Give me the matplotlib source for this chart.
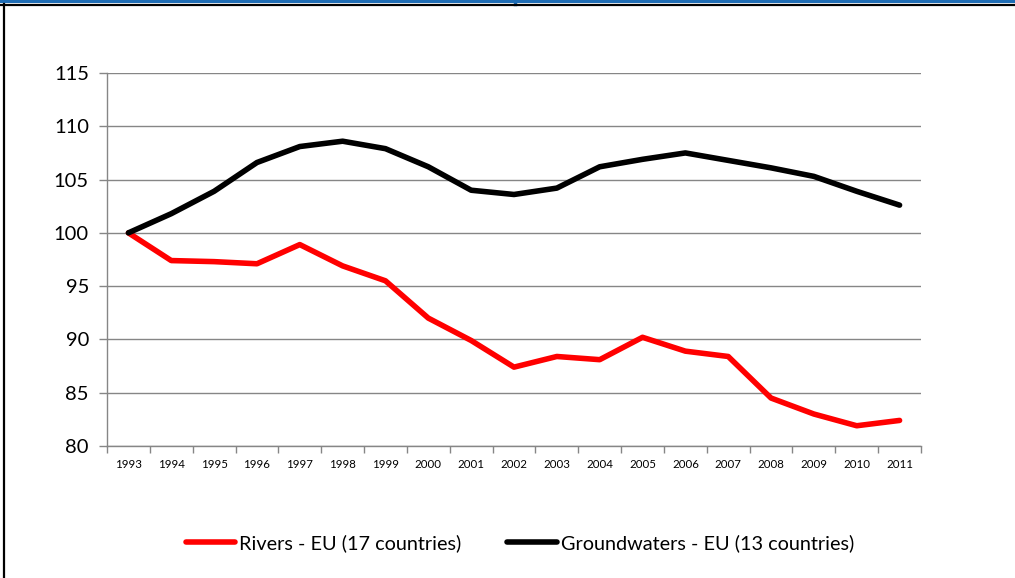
import matplotlib.pyplot as plt
from matplotlib.lines import Line2D
import numpy as np

plt.rcParams['font.family'] = ['Lato', 'DejaVu Sans']

years = ['1993', '1994', '1995', '1996', '1997', '1998', '1999', '2000', '2001', '2002',
         '2003', '2004', '2005', '2006', '2007', '2008', '2009', '2010', '2011']
rivers = [100, 97.4, 97.3, 97.1, 98.9, 96.9, 95.5, 92.0, 89.9, 87.4,
          88.4, 88.1, 90.2, 88.9, 88.4, 84.5, 83.0, 81.9, 82.4]
groundwaters = [100, 101.8, 103.9, 106.6, 108.1, 108.6, 107.9, 106.2, 104.0, 103.6,
                104.2, 106.2, 106.9, 107.5, 106.8, 106.1, 105.3, 103.9, 102.6]
labels = ['Rivers - EU (17 countries)', 'Groundwaters - EU (13 countries)']

fig = plt.figure(figsize=(10.15, 5.78), dpi=100)
ax = fig.add_axes([107 / 1015, 1 - 446 / 578, 814 / 1015, 373 / 578])

x = np.arange(len(years))
ax.plot(x, rivers, color='#ff0000', lw=4, solid_joinstyle='round', solid_capstyle='round', zorder=3)
ax.plot(x, groundwaters, color='#000000', lw=4, solid_joinstyle='round', solid_capstyle='round', zorder=3)

ax.set_xlim(-0.5, len(years) - 0.5)
ax.set_ylim(80, 115)
ax.set_yticks(np.arange(80, 116, 5))
ax.tick_params(axis='y', labelsize=14.5, length=6, width=1, color='#868686', pad=7)
ax.yaxis.grid(True, color='#868686', lw=1)
ax.set_axisbelow(True)

# category labels centred, tick marks between categories
ax.set_xticks(x)
ax.set_xticklabels(years, fontsize=8.3)
ax.tick_params(axis='x', length=0, pad=9)
ax.set_xticks(np.arange(-0.5, len(years), 1), minor=True)
ax.tick_params(axis='x', which='minor', length=5, width=1, color='#868686')

for side in ['top', 'right']:
    ax.spines[side].set_visible(False)
for side in ['left', 'bottom']:
    ax.spines[side].set_color('#868686')
    ax.spines[side].set_linewidth(1)

handles = [Line2D([], [], color='#ff0000', lw=4, solid_capstyle='round'),
           Line2D([], [], color='#000000', lw=4, solid_capstyle='round')]
fig.legend(handles, labels, loc='center', bbox_to_anchor=(520 / 1015, 1 - 543 / 578),
           ncol=2, frameon=False, fontsize=14.3, handlelength=2.5, handletextpad=0.2,
           columnspacing=2.3)

# frame lines along the top and left edges
fig.add_artist(Line2D([0, 1], [1 - 1 / 578, 1 - 1 / 578], color='#1f6db5', lw=2.2))
fig.add_artist(Line2D([515 / 1015, 515 / 1015], [1 - 1 / 578, 1 - 4 / 578], color='#1f6db5', lw=2.5))
fig.add_artist(Line2D([0, 1], [1 - 4.5 / 578, 1 - 4.5 / 578], color='black', lw=1.6))
fig.add_artist(Line2D([3.5 / 1015, 3.5 / 1015], [0, 1 - 4 / 578], color='black', lw=1.6))

fig.savefig('out.png', dpi=100)
